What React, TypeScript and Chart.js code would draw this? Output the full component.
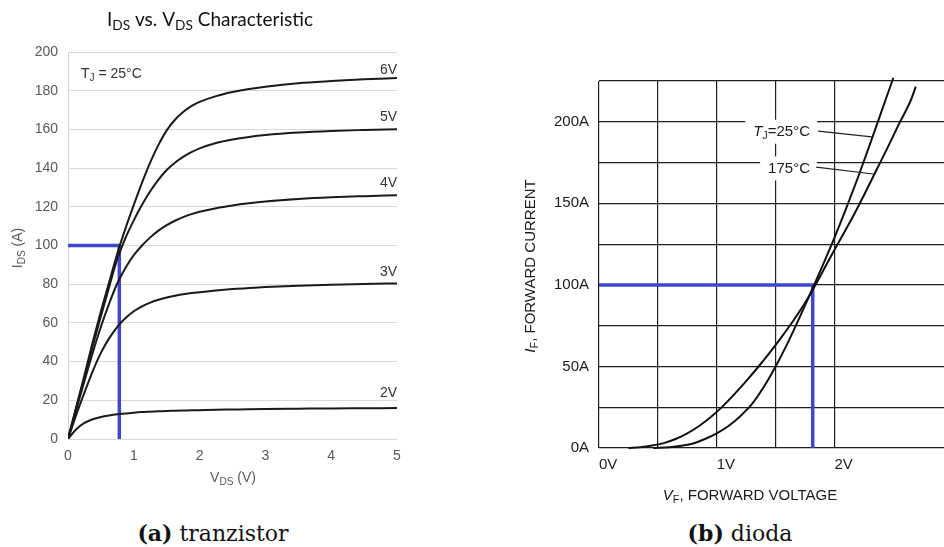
import React, { useEffect, useRef } from 'react';
import { Chart, registerables } from 'chart.js';
Chart.register(...registerables);

// ---------- Transistor (a) ----------
const vdsPoints = [0, 0.125, 0.25, 0.375, 0.5, 0.625, 0.75, 0.875, 1, 1.125, 1.25, 1.375, 1.5, 1.625, 1.75, 1.875, 2, 2.25, 2.5, 2.75, 3, 3.5, 4, 4.5, 5];
const ids6V = [0, 16.5, 33, 50, 66, 81, 96, 109, 121, 132.5, 143, 152, 159.5, 165, 169, 172, 174.2, 177.2, 179.3, 180.9, 182.1, 183.9, 185, 185.9, 186.5];
const ids5V = [0, 16, 32, 48, 63.5, 78.5, 93, 104, 113, 121, 128, 134, 139, 142.8, 145.8, 148.2, 150.2, 153, 154.8, 156.1, 157.1, 158.4, 159.2, 159.7, 160.1];
const ids4V = [0, 15, 30, 44.5, 58, 70, 80.5, 88.5, 95, 100, 104.2, 107.7, 110.5, 112.8, 114.7, 116.2, 117.4, 119.3, 120.7, 121.8, 122.7, 124, 124.9, 125.5, 126];
const ids3V = [0, 12.5, 24, 35, 44.5, 52, 58, 62.5, 66, 68.6, 70.5, 72, 73.1, 74, 74.8, 75.4, 75.9, 76.8, 77.5, 78, 78.5, 79.2, 79.7, 80.1, 80.4];
const ids2V = [0, 5, 8.3, 10.2, 11.4, 12.2, 12.8, 13.2, 13.6, 13.9, 14.1, 14.3, 14.5, 14.6, 14.7, 14.8, 14.9, 15.1, 15.25, 15.4, 15.5, 15.65, 15.8, 15.9, 16];
const gateLabels = ['6V', '5V', '4V', '3V', '2V'];
const gateLabelY = [190.7, 166.4, 132.3, 86.3, 23.8];
const transOpV = 0.78;
const transOpI = 100;

// ---------- Diode (b) ----------
const diode25V = [0.46, 0.6, 0.7, 0.8, 0.9, 1.0, 1.1, 1.2, 1.3, 1.4, 1.5, 1.6, 1.7, 1.8, 1.9, 2.0, 2.1, 2.2, 2.3, 2.4, 2.5];
const diode25A = [0, 0.5, 1.4, 2.8, 5.5, 9, 13.5, 19.5, 27, 37.5, 50, 64, 79.5, 95.5, 112, 129, 147, 166, 186, 206.5, 227];
const diode175V = [0.25, 0.35, 0.45, 0.55, 0.65, 0.75, 0.85, 0.95, 1.05, 1.15, 1.25, 1.35, 1.45, 1.55, 1.65, 1.75, 1.85, 1.95, 2.05, 2.15, 2.25, 2.35, 2.45, 2.55, 2.65, 2.69];
const diode175A = [0, 0.5, 1.5, 3, 5.5, 9, 13.5, 19, 25.5, 33, 41, 49.5, 58.5, 68, 78, 89, 101.5, 115, 128, 141, 155, 169.5, 184, 199, 213.5, 221.5];
const diodeOpV = 1.815;
const diodeOpA = 100;
// annotation anchors (data units): label centre, leader start, leader end
const annLabel25 = [1.551, 193.9];
const annLead25 = [1.861, 194.3, 2.317, 190.8];
const annLabel175 = [1.614, 171.4];
const annLead175 = [1.844, 172.2, 2.33, 168];

type Seg = { t: string; sub?: boolean; it?: boolean; bold?: boolean };
function drawRich(
  ctx: CanvasRenderingContext2D,
  segs: Seg[],
  x: number,
  y: number,
  o: { size: number; family: string; color: string; align: 'left' | 'center' | 'right'; rot?: number }
) {
  ctx.save();
  ctx.translate(x, y);
  if (o.rot) ctx.rotate(o.rot);
  const fontFor = (s: Seg) =>
    `${s.it ? 'italic ' : ''}${s.bold ? 'bold ' : ''}${s.sub ? o.size * 0.72 : o.size}px ${o.family}`;
  const widths = segs.map((s) => {
    ctx.font = fontFor(s);
    return ctx.measureText(s.t).width;
  });
  const total = widths.reduce((a, b) => a + b, 0);
  let cx = o.align === 'left' ? 0 : o.align === 'center' ? -total / 2 : -total;
  ctx.textBaseline = 'middle';
  ctx.textAlign = 'left';
  ctx.fillStyle = o.color;
  segs.forEach((s, i) => {
    ctx.font = fontFor(s);
    ctx.fillText(s.t, cx, s.sub ? o.size * 0.3 : 0);
    cx += widths[i];
  });
  ctx.restore();
  return total;
}

function measureRich(ctx: CanvasRenderingContext2D, segs: Seg[], size: number, family: string) {
  let w = 0;
  segs.forEach((s) => {
    ctx.font = `${s.it ? 'italic ' : ''}${s.sub ? size * 0.72 : size}px ${family}`;
    w += ctx.measureText(s.t).width;
  });
  return w;
}

const pairs = (xs: number[], ys: number[]) => xs.map((x, i) => ({ x, y: ys[i] }));

export default function App() {
  const leftRef = useRef<HTMLCanvasElement>(null);
  const rightRef = useRef<HTMLCanvasElement>(null);

  useEffect(() => {
    const sans = "'Liberation Sans', Arial, sans-serif";
    const curve = (data: number[]) => ({
      data: pairs(vdsPoints, data),
      borderColor: '#1a1a1a',
      borderWidth: 2,
      pointRadius: 0,
      cubicInterpolationMode: 'monotone' as const,
      fill: false,
    });

    const leftText = {
      id: 'leftText',
      afterDraw(chart: any) {
        const ctx = chart.ctx as CanvasRenderingContext2D;
        const ca = chart.chartArea;
        const xs = chart.scales.x;
        const ys = chart.scales.y;
        drawRich(ctx, [{ t: 'I' }, { t: 'DS', sub: true }, { t: ' vs. V' }, { t: 'DS', sub: true }, { t: ' Characteristic' }], 210, 20, {
          size: 19, family: "Lato, 'Open Sans', sans-serif", color: '#111', align: 'center',
        });
        drawRich(ctx, [{ t: 'I' }, { t: 'DS', sub: true }, { t: ' (A)' }], 18.5, 248, {
          size: 14, family: sans, color: '#595959', align: 'center', rot: -Math.PI / 2,
        });
        drawRich(ctx, [{ t: 'V' }, { t: 'DS', sub: true }, { t: ' (V)' }], 233, 478, {
          size: 14, family: sans, color: '#595959', align: 'center',
        });
        drawRich(ctx, [{ t: 'T' }, { t: 'J', sub: true }, { t: ' = 25°C' }], ca.left + 13, 74, {
          size: 14, family: sans, color: '#333', align: 'left',
        });
        gateLabels.forEach((lab, i) => {
          drawRich(ctx, [{ t: lab }], xs.getPixelForValue(5), ys.getPixelForValue(gateLabelY[i]), {
            size: 14, family: sans, color: '#333', align: 'right',
          });
        });
      },
    };

    const c1 = new Chart(leftRef.current!, {
      type: 'line',
      data: {
        datasets: [
          curve(ids6V),
          curve(ids5V),
          curve(ids4V),
          curve(ids3V),
          curve(ids2V),
          {
            data: [
              { x: 0, y: transOpI },
              { x: transOpV, y: transOpI },
              { x: transOpV, y: 0 },
            ],
            borderColor: '#3f48cc',
            borderWidth: 3.5,
            pointRadius: 0,
            tension: 0,
            fill: false,
          } as any,
        ],
      },
      options: {
        animation: false,
        responsive: false,
        devicePixelRatio: 1,
        layout: { padding: { top: 52, right: 23, left: 0, bottom: 0 } },
        plugins: { legend: { display: false }, tooltip: { enabled: false }, title: { display: false } },
        scales: {
          x: {
            type: 'linear',
            min: 0,
            max: 5,
            ticks: { stepSize: 1, color: '#595959', font: { size: 14, family: sans }, padding: 9, maxRotation: 0 },
            grid: { display: false, drawTicks: false },
            border: { display: false },
            afterFit: (s: any) => { s.height = 61; },
          },
          y: {
            type: 'linear',
            min: 0,
            max: 200,
            ticks: { stepSize: 20, color: '#595959', font: { size: 14, family: sans }, padding: 10 },
            grid: { color: '#d9d9d9', drawTicks: false, lineWidth: 1 },
            border: { display: true, color: '#d0d0d0' },
            afterFit: (s: any) => { s.width = 68; },
          },
        },
      } as any,
      plugins: [leftText],
    });

    const rightText = {
      id: 'rightText',
      afterDraw(chart: any) {
        const ctx = chart.ctx as CanvasRenderingContext2D;
        const xs = chart.scales.x;
        const ys = chart.scales.y;
        const px = (v: number) => xs.getPixelForValue(v);
        const py = (v: number) => ys.getPixelForValue(v);
        // axis titles (canvas starts at page x 420)
        drawRich(ctx, [{ t: 'I', it: true }, { t: 'F', sub: true }, { t: ', FORWARD CURRENT' }], 531 - 420, 266, {
          size: 15, family: sans, color: '#1b1b1b', align: 'center', rot: -Math.PI / 2,
        });
        drawRich(ctx, [{ t: 'V', it: true }, { t: 'F', sub: true }, { t: ', FORWARD VOLTAGE' }], 750 - 420, 496, {
          size: 15, family: sans, color: '#1b1b1b', align: 'center',
        });
        const labs: [Seg[], number[], number[]][] = [
          [[{ t: 'T', it: true }, { t: 'J', sub: true }, { t: '=25°C' }], annLabel25, annLead25],
          [[{ t: '175°C' }], annLabel175, annLead175],
        ];
        labs.forEach(([segs, lab, lead]) => {
          const w = measureRich(ctx, segs, 15, sans);
          const cx = px(lab[0]);
          const cy = py(lab[1]);
          ctx.fillStyle = '#fff';
          ctx.fillRect(cx - w / 2 - 8, cy - 12, w + 15, 24);
          drawRich(ctx, segs, cx, cy, { size: 15, family: sans, color: '#1b1b1b', align: 'center' });
          ctx.save();
          ctx.strokeStyle = '#222';
          ctx.lineWidth = 1.2;
          ctx.beginPath();
          ctx.moveTo(px(lead[0]), py(lead[1]));
          ctx.lineTo(px(lead[2]), py(lead[3]));
          ctx.stroke();
          ctx.restore();
        });
      },
    };

    const dcurve = (xv: number[], yv: number[]) => ({
      data: pairs(xv, yv),
      borderColor: '#111',
      borderWidth: 2,
      pointRadius: 0,
      cubicInterpolationMode: 'monotone' as const,
      fill: false,
      clip: false,
    });

    const c2 = new Chart(rightRef.current!, {
      type: 'line',
      data: {
        datasets: [
          dcurve(diode25V, diode25A),
          dcurve(diode175V, diode175A),
          {
            data: [
              { x: 0, y: diodeOpA },
              { x: diodeOpV, y: diodeOpA },
              { x: diodeOpV, y: 0 },
            ],
            borderColor: '#3f48cc',
            borderWidth: 3.5,
            pointRadius: 0,
            tension: 0,
            fill: false,
          } as any,
        ],
      },
      options: {
        animation: false,
        responsive: false,
        devicePixelRatio: 1,
        layout: { padding: { top: 81, right: 0, left: 0, bottom: 0 } },
        plugins: { legend: { display: false }, tooltip: { enabled: false }, title: { display: false } },
        scales: {
          x: {
            type: 'linear',
            min: 0,
            max: 2.93,
            afterBuildTicks: (s: any) => {
              s.ticks = s.ticks.filter((t: any) => Math.abs(t.value * 2 - Math.round(t.value * 2)) < 1e-6);
            },
            ticks: {
              stepSize: 0.5,
              autoSkip: false,
              maxRotation: 0,
              align: 'start',
              padding: 8,
              color: '#1b1b1b',
              font: { size: 15, family: sans },
              callback: (v: any) => (Math.abs(v - Math.round(v)) < 1e-6 ? `${Math.round(v)}V` : ''),
            },
            grid: { color: '#1e1e1e', lineWidth: 1.2, drawTicks: false },
            border: { display: false },
            afterFit: (s: any) => { s.height = 62; },
          },
          y: {
            type: 'linear',
            min: 0,
            max: 225,
            ticks: {
              stepSize: 25,
              autoSkip: false,
              padding: 10,
              color: '#1b1b1b',
              font: { size: 15, family: sans },
              callback: (v: any) => (v % 50 === 0 ? `${v}A` : ''),
            },
            grid: { color: '#1e1e1e', lineWidth: 1.2, drawTicks: false },
            border: { display: false },
            afterFit: (s: any) => { s.width = 179; },
          },
        },
      } as any,
      plugins: [rightText],
    });

    return () => {
      c1.destroy();
      c2.destroy();
    };
  }, []);

  const capStyle: React.CSSProperties = {
    position: 'absolute',
    top: 519,
    fontFamily: "'DejaVu Serif', serif",
    fontSize: 22,
    lineHeight: '28px',
    textAlign: 'center',
    color: '#111',
    whiteSpace: 'nowrap',
  };

  return (
    <div style={{ position: 'absolute', left: 0, top: 0, width: 944, height: 547, background: '#fff', overflow: 'hidden' }}>
      <canvas ref={leftRef} width={420} height={500} style={{ position: 'absolute', left: 0, top: 0, width: 420, height: 500 }} />
      <canvas ref={rightRef} width={524} height={510} style={{ position: 'absolute', left: 420, top: 0, width: 524, height: 510 }} />
      <div style={{ ...capStyle, left: 0, width: 426 }}>
        <b>(a)</b> tranzistor
      </div>
      <div style={{ ...capStyle, left: 540, width: 400 }}>
        <b>(b)</b> dioda
      </div>
    </div>
  );
}
